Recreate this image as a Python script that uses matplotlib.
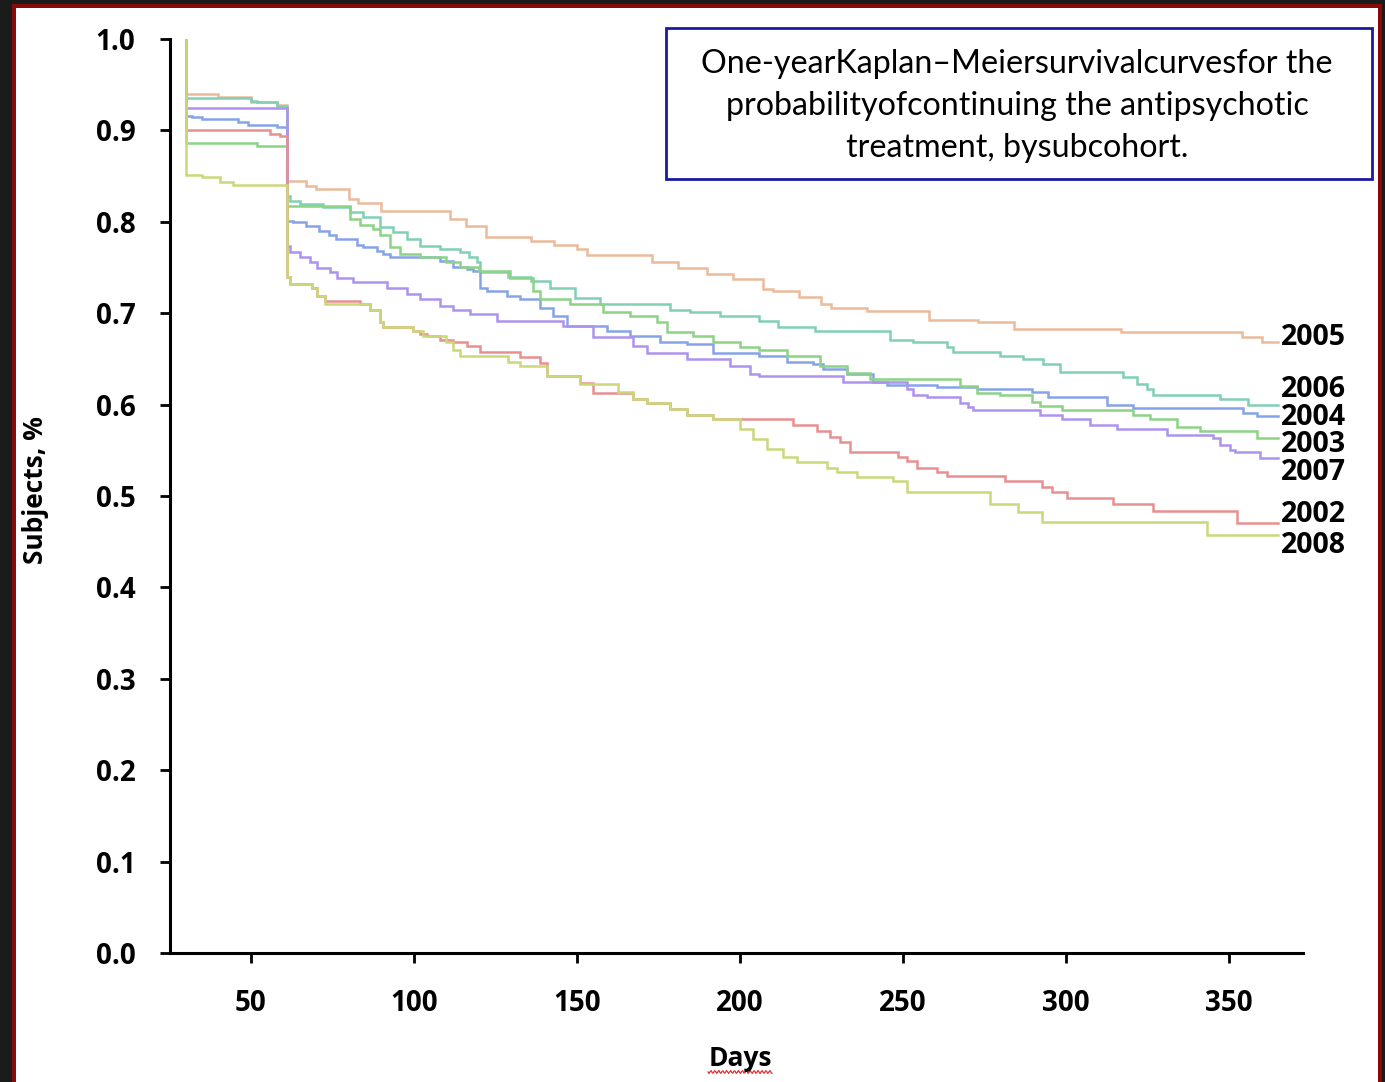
import numpy as np
import matplotlib
matplotlib.use("Agg")
import matplotlib.pyplot as plt
from matplotlib.patches import Rectangle

# ---------------- data (days, survival probability) ----------------
days_2005 = [30, 30, 40, 50, 58, 61, 67, 70, 80, 83, 90, 111, 116, 122, 136, 143, 150, 153, 173, 181,
             190, 198, 207, 210, 218, 225, 228, 239, 258, 273, 284, 317, 354, 360, 365]
surv_2005 = [1.0, 0.940, 0.936, 0.931, 0.928, 0.845, 0.839, 0.836, 0.825, 0.821, 0.812, 0.803, 0.795,
             0.783, 0.779, 0.775, 0.770, 0.764, 0.756, 0.750, 0.743, 0.737, 0.726, 0.724, 0.718, 0.710,
             0.706, 0.702, 0.693, 0.690, 0.683, 0.679, 0.674, 0.668, 0.668]

days_2006 = [30, 30, 50, 52, 58, 61, 62, 65, 72, 80.4, 84.4, 89.6, 93.6, 97.9, 101.8, 108, 114, 117,
             119.3, 120.2, 129, 136, 141.7, 149.4, 157, 178.5, 184.7, 193.9, 206, 211.7, 223, 246, 253,
             263.5, 265.3, 279.8, 286.8, 292.9, 298.2, 317.5, 321.8, 324.8, 326.7, 347.2, 355.8, 365]
surv_2006 = [1.0, 0.935, 0.932, 0.931, 0.927, 0.828, 0.823, 0.819, 0.816, 0.811, 0.805, 0.794, 0.789,
             0.781, 0.773, 0.770, 0.767, 0.761, 0.756, 0.745, 0.740, 0.735, 0.728, 0.717, 0.710, 0.704,
             0.701, 0.697, 0.691, 0.685, 0.680, 0.671, 0.668, 0.663, 0.658, 0.653, 0.650, 0.644, 0.636,
             0.630, 0.622, 0.617, 0.611, 0.606, 0.600, 0.600]

days_2004 = [30, 30, 32, 35, 46, 49, 58, 61, 63, 67, 71, 74, 76, 82.5, 84.4, 88.7, 90.5, 92.6, 102.8,
             108, 112, 116.3, 118, 120.2, 122.4, 128.5, 132.5, 138.7, 142.6, 146.9, 159.2, 166.3, 175.5,
             183.7, 191.7, 206, 214.4, 222.4, 225.5, 232.8, 240.8, 245, 260.4, 272.7, 289.6, 294.5,
             312.6, 320.6, 354.3, 358.6, 365]
surv_2004 = [1.0, 0.916, 0.915, 0.912, 0.909, 0.906, 0.904, 0.801, 0.800, 0.795, 0.790, 0.786, 0.781,
             0.775, 0.772, 0.768, 0.765, 0.762, 0.761, 0.757, 0.751, 0.748, 0.746, 0.728, 0.724, 0.719,
             0.715, 0.706, 0.697, 0.686, 0.680, 0.675, 0.669, 0.666, 0.657, 0.653, 0.647, 0.644, 0.639,
             0.633, 0.625, 0.621, 0.619, 0.617, 0.614, 0.608, 0.600, 0.596, 0.591, 0.587, 0.587]

days_2003 = [30, 30, 52, 61, 80.4, 83.4, 87.4, 89.6, 92.6, 95.7, 101.8, 110, 114, 120, 129.4, 136.5,
             138.7, 147.9, 158, 166.3, 174.5, 177.6, 185.6, 191.7, 200, 206, 214.4, 224.5, 232.8, 239.9,
             267.5, 272.7, 279.8, 289.6, 292, 298.8, 320.6, 325.8, 334, 341, 358.6, 365]
surv_2003 = [1.0, 0.886, 0.883, 0.817, 0.803, 0.797, 0.792, 0.786, 0.772, 0.765, 0.761, 0.756, 0.751,
             0.746, 0.739, 0.724, 0.715, 0.710, 0.701, 0.697, 0.690, 0.679, 0.675, 0.669, 0.663, 0.660,
             0.653, 0.642, 0.635, 0.628, 0.620, 0.613, 0.611, 0.603, 0.598, 0.594, 0.589, 0.584, 0.575,
             0.571, 0.564, 0.564]

days_2007 = [30, 30, 61, 62, 65, 68, 70.2, 74.2, 76.4, 81.3, 91.7, 97.9, 101.8, 108, 112, 117.2, 125.5,
             145.7, 154.9, 167.2, 171.5, 183.7, 196.9, 203.1, 206, 231.6, 251.2, 253.1, 257.4, 267.5,
             269.9, 271.5, 292, 298.8, 307.4, 315.6, 331, 345.1, 347.2, 350.3, 351.8, 359.5, 365]
surv_2007 = [1.0, 0.924, 0.773, 0.767, 0.761, 0.756, 0.750, 0.745, 0.739, 0.734, 0.728, 0.721, 0.715,
             0.708, 0.704, 0.699, 0.691, 0.686, 0.674, 0.664, 0.657, 0.650, 0.642, 0.633, 0.631, 0.625,
             0.617, 0.611, 0.608, 0.602, 0.597, 0.594, 0.589, 0.584, 0.578, 0.573, 0.567, 0.564, 0.556,
             0.550, 0.548, 0.542, 0.542]

days_2002 = [30, 30, 55.8, 58.9, 61, 62, 68.7, 70.2, 72.7, 83.4, 86.5, 89.6, 90.5, 99.7, 101.8, 104,
             108, 112, 116.3, 120.2, 132.5, 138.7, 140.8, 150.9, 154.9, 167.2, 171.5, 178.5, 183.7,
             191.7, 216.3, 223.6, 227.6, 230.7, 233.7, 248.5, 251.2, 254.3, 260.4, 263.5, 281.3, 292.6,
             295.7, 300.3, 314.4, 326.7, 352.5, 365]
surv_2002 = [1.0, 0.900, 0.896, 0.894, 0.740, 0.732, 0.728, 0.719, 0.713, 0.710, 0.704, 0.690, 0.685,
             0.680, 0.677, 0.675, 0.671, 0.668, 0.664, 0.658, 0.652, 0.646, 0.631, 0.624, 0.613, 0.606,
             0.602, 0.595, 0.589, 0.584, 0.578, 0.571, 0.565, 0.559, 0.548, 0.543, 0.538, 0.531, 0.526,
             0.522, 0.516, 0.510, 0.504, 0.498, 0.491, 0.484, 0.471, 0.471]

days_2008 = [30, 30, 35, 40.5, 44.5, 61, 62, 68.7, 70.2, 72.7, 86.5, 89.6, 90.5, 99.7, 102.8, 110, 112,
             114, 129, 132.5, 140.8, 150.9, 162.6, 167.2, 171.5, 178.5, 183.7, 191.7, 200, 204, 208.3,
             213.2, 217.5, 226.7, 229.8, 235.9, 246.9, 251.2, 276.7, 285.3, 292.6, 343.3, 365]
surv_2008 = [1.0, 0.851, 0.849, 0.844, 0.840, 0.740, 0.732, 0.728, 0.719, 0.710, 0.704, 0.690, 0.685,
             0.680, 0.675, 0.668, 0.660, 0.653, 0.647, 0.642, 0.631, 0.622, 0.614, 0.606, 0.602, 0.595,
             0.589, 0.584, 0.573, 0.562, 0.551, 0.543, 0.537, 0.531, 0.526, 0.521, 0.516, 0.504, 0.491,
             0.482, 0.472, 0.457, 0.457]

series_names = ["2005", "2006", "2004", "2003", "2007", "2002", "2008"]
label_y = [0.673, 0.616, 0.586, 0.556, 0.526, 0.480, 0.446]
x_ticks = [50, 100, 150, 200, 250, 300, 350]
y_ticks = [0.0, 0.1, 0.2, 0.3, 0.4, 0.5, 0.6, 0.7, 0.8, 0.9, 1.0]
title_text = ("One-yearKaplan\u2013Meiersurvivalcurvesfor the\n"
              "probabilityofcontinuing the antipsychotic\n"
              "treatment, bysubcohort.")

series = {
    "2005": (days_2005, surv_2005, "#ebbb9c"),
    "2006": (days_2006, surv_2006, "#80d0b4"),
    "2004": (days_2004, surv_2004, "#86a3e8"),
    "2003": (days_2003, surv_2003, "#8cd386"),
    "2007": (days_2007, surv_2007, "#ad93ef"),
    "2002": (days_2002, surv_2002, "#e89090"),
    "2008": (days_2008, surv_2008, "#cbd87a"),
}

W, H = 1385, 1082
fig = plt.figure(figsize=(W / 100, H / 100), dpi=100)
fig.patch.set_facecolor("#1b1b1b")

# white slide area with dark red border
fig.patches.append(Rectangle((12 / W, 0), (1382 - 12) / W, (H - 4) / H, transform=fig.transFigure,
                             facecolor="#8a0a0a", edgecolor="none", zorder=-2))
fig.patches.append(Rectangle((16 / W, 0), (1378 - 16) / W, (H - 8) / H, transform=fig.transFigure,
                             facecolor="white", edgecolor="none", zorder=-1))

ax = fig.add_axes([170 / W, (H - 953) / H, (1303 - 170) / W, (953 - 39) / H])
ax.set_zorder(1)
ax.set_facecolor("none")

for name in series_names:
    d, s, c = series[name]
    ax.plot(d, s, drawstyle="steps-post", color=c, lw=1.8, solid_joinstyle="miter")

ax.set_xlim(25.2, 372.7)
ax.set_ylim(0, 1.0)
ax.set_xticks(x_ticks)
ax.set_yticks(y_ticks)
ax.set_yticklabels([f"{v:.1f}" for v in y_ticks])

fp = dict(family="Open Sans", weight="bold")
for lab in ax.get_xticklabels() + ax.get_yticklabels():
    lab.set_fontfamily("Open Sans")
    lab.set_fontweight("bold")
    lab.set_fontsize(20)
ax.tick_params(axis="both", direction="out", length=7, width=2, color="black")
ax.tick_params(axis="x", pad=19)
ax.tick_params(axis="y", pad=18)
for sp in ["top", "right"]:
    ax.spines[sp].set_visible(False)
for sp in ["left", "bottom"]:
    ax.spines[sp].set_linewidth(2.2)
    ax.spines[sp].set_color("black")

for name, yv in zip(series_names, label_y):
    ax.text(366.0, yv, name, ha="left", va="center", fontsize=20.5, clip_on=False, **fp)

fig.text(36 / W, 1 - 490 / H, "Subjects, %", rotation=90, ha="center", va="center",
         fontsize=19, **fp)
fig.text(740 / W, 1 - 1058 / H, "Days", ha="center", va="center", fontsize=19, **fp)
# spell-check squiggle under "Days"
sx = np.linspace(708, 772, 60)
sy = 1072 + 1.5 * np.sin((sx - 708) * 1.6)
fig.lines.append(plt.Line2D(sx / W, 1 - sy / H, transform=fig.transFigure, color="#e03030", lw=0.9))

# title box
fig.patches.append(Rectangle((666 / W, 1 - 179 / H), (1372 - 666) / W, (179 - 28) / H,
                             transform=fig.transFigure, facecolor="white", edgecolor="#1a1aa0",
                             lw=2, zorder=3))
fig.text(1017 / W, 1 - 106 / H, title_text, ha="center", va="center", fontsize=23.2,
         family="Lato", linespacing=1.5, zorder=4)

fig.savefig("out.png", dpi=100, facecolor=fig.get_facecolor())
